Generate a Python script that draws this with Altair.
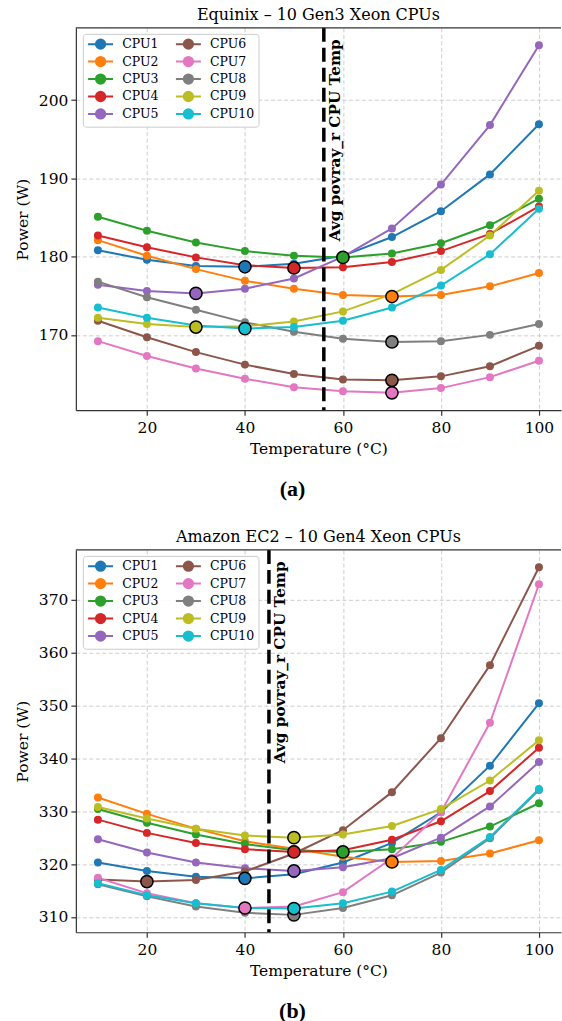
import altair as alt
import pandas as pd

temps = [10, 20, 30, 40, 50, 60, 70, 80, 90, 100]
cpus = ["CPU1", "CPU2", "CPU3", "CPU4", "CPU5", "CPU6", "CPU7", "CPU8", "CPU9", "CPU10"]
colors = ["#1f77b4", "#ff7f0e", "#2ca02c", "#d62728", "#9467bd",
          "#8c564b", "#e377c2", "#7f7f7f", "#bcbd22", "#17becf"]

# Equinix - 10 Gen3 Xeon CPUs
eq_cpu1 = [180.8, 179.6, 178.8, 178.7, 179.1, 180.1, 182.5, 185.8, 190.5, 196.9]
eq_cpu2 = [182.1, 180.1, 178.4, 176.9, 175.9, 175.1, 174.9, 175.1, 176.2, 177.9]
eq_cpu3 = [185.1, 183.3, 181.8, 180.7, 180.1, 179.9, 180.4, 181.7, 184.0, 187.4]
eq_cpu4 = [182.7, 181.2, 179.9, 178.9, 178.55, 178.65, 179.3, 180.7, 182.9, 186.4]
eq_cpu5 = [176.4, 175.6, 175.3, 175.9, 177.2, 180.0, 183.6, 189.2, 196.8, 207.0]
eq_cpu6 = [171.8, 169.7, 167.8, 166.2, 165.0, 164.3, 164.2, 164.7, 166.0, 168.6]
eq_cpu7 = [169.2, 167.3, 165.7, 164.4, 163.3, 162.8, 162.6, 163.2, 164.6, 166.7]
eq_cpu8 = [176.8, 174.8, 173.2, 171.6, 170.4, 169.5, 169.1, 169.2, 170.0, 171.4]
eq_cpu9 = [172.2, 171.4, 171.0, 171.1, 171.7, 173.0, 175.2, 178.3, 182.7, 188.4]
eq_cpu10 = [173.5, 172.2, 171.2, 170.8, 171.0, 171.8, 173.5, 176.3, 180.3, 186.1]
eq_avg_temp = 56.1

# Amazon EC2 - 10 Gen4 Xeon CPUs
ec_cpu1 = [320.3, 318.7, 317.6, 317.3, 318.1, 320.3, 324.0, 329.8, 338.6, 350.4]
ec_cpu2 = [332.6, 329.5, 326.7, 324.3, 322.9, 321.4, 320.4, 320.6, 322.0, 324.5]
ec_cpu3 = [330.4, 327.8, 325.6, 323.8, 322.6, 322.3, 322.8, 324.2, 327.1, 331.5]
ec_cpu4 = [328.4, 325.9, 324.0, 322.8, 322.3, 322.6, 324.6, 328.1, 333.8, 342.0]
ec_cpu5 = [324.7, 322.2, 320.3, 319.2, 318.7, 319.4, 321.1, 325.0, 330.9, 339.3]
ec_cpu6 = [317.1, 316.7, 317.0, 318.6, 322.0, 326.4, 333.6, 343.8, 357.6, 376.1]
ec_cpu7 = [317.4, 314.5, 312.6, 311.7, 312.0, 314.7, 321.1, 329.8, 346.7, 372.9]
ec_cpu8 = [316.2, 313.9, 312.0, 310.8, 310.4, 311.7, 314.1, 318.4, 324.9, 334.0]
ec_cpu9 = [330.8, 328.6, 326.7, 325.4, 325.0, 325.6, 327.2, 330.4, 335.8, 343.4]
ec_cpu10 = [316.4, 314.1, 312.6, 311.7, 311.6, 312.6, 314.8, 318.9, 325.1, 334.2]
ec_avg_temp = 44.9

eq_series = [eq_cpu1, eq_cpu2, eq_cpu3, eq_cpu4, eq_cpu5, eq_cpu6, eq_cpu7, eq_cpu8, eq_cpu9, eq_cpu10]
ec_series = [ec_cpu1, ec_cpu2, ec_cpu3, ec_cpu4, ec_cpu5, ec_cpu6, ec_cpu7, ec_cpu8, ec_cpu9, ec_cpu10]

FONT = "DejaVu Serif"
ANNOT = "Avg povray_r CPU Temp"

LEG_SYMBOL = ("M-2.5,0L2.5,0M0.93,0A0.93,0.93,0,1,1,-0.93,0"
              "A0.93,0.93,0,1,1,0.93,0Z")


def build_df(series):
    rows = []
    for name, col, vals in zip(cpus, colors, series):
        for t, v in zip(temps, vals):
            rows.append({"cpu": name, "hex": col, "temp": t, "power": v})
    return pd.DataFrame(rows)


def margin_domain(vals):
    lo, hi = min(vals), max(vals)
    m = 0.05 * (hi - lo)
    return [lo - m, hi + m]


def panel(series, avg_temp, title, yticks):
    df = build_df(series)
    xdom = margin_domain(temps)
    ydom = margin_domain(df["power"].tolist())
    xs = alt.Scale(domain=xdom, nice=False, zero=False)
    ys = alt.Scale(domain=ydom, nice=False, zero=False)
    x_enc = alt.X("temp:Q", scale=xs,
                  axis=alt.Axis(values=[20, 40, 60, 80, 100], title="Temperature (°C)"))
    y_enc = alt.Y("power:Q", scale=ys,
                  axis=alt.Axis(values=yticks, title="Power (W)"))
    legend = alt.Legend(
        title=None, orient="none", legendX=7, legendY=6, columns=2,
        symbolType=LEG_SYMBOL, symbolSize=100, symbolStrokeWidth=2,
        symbolOffset=7.5, labelOffset=15.4, labelFont=FONT, labelFontSize=12.5,
        labelColor="black", rowPadding=-0.5, columnPadding=13, padding=4,
        strokeColor="#cccccc", fillColor="rgba(255,255,255,0.85)",
        cornerRadius=3, symbolOpacity=1,
    )
    cscale = alt.Scale(domain=cpus, range=colors)
    color = alt.Color("cpu:N", scale=cscale, legend=legend)

    lines = alt.Chart(df).mark_line(strokeWidth=2).encode(
        x=x_enc, y=y_enc, color=color, detail="cpu:N")
    pts = alt.Chart(df).mark_circle(size=64, opacity=1).encode(
        x=x_enc, y=y_enc, color=color)

    mins = df.loc[df.groupby("cpu", sort=False)["power"].idxmin()]
    big = alt.Chart(mins).mark_circle(
        size=150, opacity=1, stroke="black", strokeWidth=1.5).encode(
        x=x_enc, y=y_enc, fill=alt.Fill("hex:N", scale=None))

    vdf = pd.DataFrame({"temp": [avg_temp], "power": [df["power"].max()], "label": [ANNOT]})
    vline = alt.Chart(vdf).mark_rule(
        color="black", strokeWidth=3.5, strokeDash=[14, 6]).encode(x=x_enc)
    vtext = alt.Chart(vdf).mark_text(
        angle=270, align="right", baseline="top", dx=6, dy=4,
        font=FONT, fontWeight="bold", fontSize=15.3, color="black").encode(
        x=x_enc, y=y_enc, text="label:N")

    top_border = alt.Chart(pd.DataFrame({"k": [0]})).mark_rule(
        color="#333333", strokeWidth=1.2).encode(y=alt.value(0))

    return alt.layer(lines, pts, big, vline, vtext, top_border).properties(
        width=486, height=383,
        title=alt.TitleParams(title, font=FONT, fontSize=16, fontWeight="normal",
                              color="black", offset=3, anchor="middle"),
    )


def captioned(ch, cap):
    return alt.vconcat(
        ch,
        title=alt.TitleParams(cap, orient="bottom", anchor="middle",
                              font="Liberation Serif", fontSize=22,
                              fontWeight="bold", color="black", offset=22, dx=4),
    ).resolve_scale(color="independent", x="independent", y="independent")


top = captioned(panel(eq_series, eq_avg_temp, "Equinix – 10 Gen3 Xeon CPUs",
                      [170, 180, 190, 200]), "(a)")
bottom = captioned(panel(ec_series, ec_avg_temp, "Amazon EC2 – 10 Gen4 Xeon CPUs",
                         [310, 320, 330, 340, 350, 360, 370]), "(b)")

chart = alt.vconcat(top, bottom, spacing=29).resolve_scale(
    color="independent", x="independent", y="independent"
).properties(
    padding={"left": 15, "top": 6, "right": 0, "bottom": 0}
).configure(
    font=FONT, background="white"
).configure_view(
    stroke=None
).configure_axis(
    labelFont=FONT, labelFontSize=15.5, labelColor="black",
    titleFont=FONT, titleFontSize=15.5, titleFontWeight="normal", titleColor="black",
    tickSize=5, tickColor="#333333", tickWidth=1.2,
    domainColor="#333333", domainWidth=1.2,
    grid=True, gridColor="#c8c8c8", gridDash=[4, 2.5], gridWidth=0.9,
).configure_axisX(
    labelPadding=5.5, titlePadding=5,
).configure_axisY(
    labelPadding=3, titlePadding=8,
)

chart.save("out.html", embed_options={"renderer": "svg", "actions": False})
